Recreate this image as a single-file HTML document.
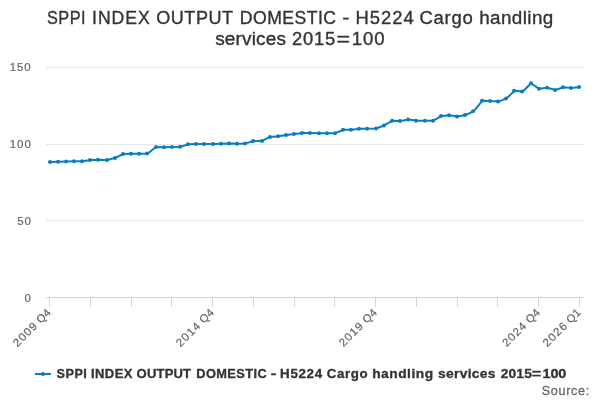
<!DOCTYPE html>
<html><head><meta charset="utf-8"><title>chart</title>
<style>
html,body{margin:0;padding:0;background:#fff;}
body{width:600px;height:400px;overflow:hidden;font-family:"Liberation Sans",sans-serif;}
svg{display:block;will-change:transform;font-kerning:none;font-family:"Liberation Sans",sans-serif;}
</style></head><body>
<svg width="600" height="400" viewBox="0 0 600 400">
<rect x="0" y="0" width="600" height="400" fill="#ffffff"/>
<g stroke="#e6e6e6" stroke-width="1" fill="none">
<path d="M 46 67.5 H 584"/><path d="M 46 144.5 H 584"/><path d="M 46 220.5 H 584"/>
</g>
<g stroke="#ccd6eb" stroke-width="1" fill="none">
<path d="M 46 297.5 H 584"/><path d="M 49.5 297.5 V 307"/><path d="M 90.5 297.5 V 307"/><path d="M 131.5 297.5 V 307"/><path d="M 171.5 297.5 V 307"/><path d="M 212.5 297.5 V 307"/><path d="M 253.5 297.5 V 307"/><path d="M 294.5 297.5 V 307"/><path d="M 334.5 297.5 V 307"/><path d="M 375.5 297.5 V 307"/><path d="M 416.5 297.5 V 307"/><path d="M 457.5 297.5 V 307"/><path d="M 497.5 297.5 V 307"/><path d="M 538.5 297.5 V 307"/><path d="M 579.5 297.5 V 307"/>
</g>
<g fill="#333333" stroke="#333333" stroke-width="0.35">
<text transform="translate(46.96 24) scale(0.8941 1)" font-size="18.2px" style="letter-spacing:0.563px">SPPI</text>
<text transform="translate(92.10 24) scale(0.9677 1)" font-size="18.2px" style="letter-spacing:0.979px">INDEX</text>
<text transform="translate(156.16 24) scale(0.9914 1)" font-size="18.2px" style="letter-spacing:0.571px">OUTPUT</text>
<text transform="translate(239.79 24) scale(0.9688 1)" font-size="18.2px" style="letter-spacing:0.473px">DOMESTIC</text>
<text transform="translate(342.37 24) scale(1.2052 1)" font-size="18.2px" style="letter-spacing:0.000px">-</text>
<text transform="translate(355.49 24) scale(1.0123 1)" font-size="18.2px" style="letter-spacing:0.995px">H5224</text>
<text transform="translate(419.41 24) scale(0.9747 1)" font-size="19px" style="letter-spacing:0.749px">Cargo</text>
<text transform="translate(479.13 24) scale(0.9924 1)" font-size="19px" style="letter-spacing:0.425px">handling</text>
<text transform="translate(215.19 45) scale(1.0014 1)" font-size="19px" style="letter-spacing:0.155px">services</text>
<text transform="translate(292.08 45) scale(1.0130 1)" font-size="18.2px" style="letter-spacing:0.683px">2015</text>
<text transform="translate(336.56 45) scale(1.2779 1)" font-size="18.2px" style="letter-spacing:0.000px">=</text>
<text transform="translate(351.76 45) scale(1.0247 1)" font-size="18.2px" style="letter-spacing:0.809px">100</text>
</g>
<g fill="#666666" stroke="#666666" stroke-width="0.2">
<text transform="translate(9.80 71) scale(1.0202 1)" font-size="11.2px" style="letter-spacing:0.911px">150</text>
<text transform="translate(9.75 148) scale(1.0299 1)" font-size="11.2px" style="letter-spacing:0.884px">100</text>
<text transform="translate(17.16 225) scale(1.0283 1)" font-size="11.2px" style="letter-spacing:0.868px">50</text>
<text transform="translate(24.49 301.8) scale(1.0226 1)" font-size="11.2px" style="letter-spacing:0.000px">0</text>
</g>
<g fill="#666666" stroke="#666666" stroke-width="0.2">
<g transform="translate(51.7 313.1) rotate(-45)"><text transform="translate(-48.48 0) scale(1.0476 1)" font-size="11.2px" style="letter-spacing:0.901px">2009</text> <text transform="translate(-15.55 0) scale(0.9992 1)" font-size="11.2px" style="letter-spacing:0.352px">Q4</text></g>
<g transform="translate(214.8 313.1) rotate(-45)"><text transform="translate(-48.63 0) scale(1.0320 1)" font-size="11.2px" style="letter-spacing:1.125px">2014</text> <text transform="translate(-15.55 0) scale(0.9992 1)" font-size="11.2px" style="letter-spacing:0.352px">Q4</text></g>
<g transform="translate(377.8 313.1) rotate(-45)"><text transform="translate(-48.47 0) scale(1.0384 1)" font-size="11.2px" style="letter-spacing:0.963px">2019</text> <text transform="translate(-15.55 0) scale(0.9992 1)" font-size="11.2px" style="letter-spacing:0.352px">Q4</text></g>
<g transform="translate(540.9 313.1) rotate(-45)"><text transform="translate(-48.47 0) scale(1.0394 1)" font-size="11.2px" style="letter-spacing:0.954px">2024</text> <text transform="translate(-15.55 0) scale(0.9992 1)" font-size="11.2px" style="letter-spacing:0.352px">Q4</text></g>
<g transform="translate(581.6 313.1) rotate(-45)"><text transform="translate(-48.51 0) scale(1.0463 1)" font-size="11.2px" style="letter-spacing:0.907px">2026</text> <text transform="translate(-15.49 0) scale(0.9794 1)" font-size="11.2px" style="letter-spacing:0.643px">Q1</text></g>
</g>
<path d="M 50.08 161.95 L 58.23 161.80 L 66.38 161.49 L 74.53 161.34 L 82.68 161.19 L 90.83 160.11 L 98.98 159.81 L 107.14 159.96 L 115.29 157.89 L 123.44 153.98 L 131.59 153.75 L 139.74 153.67 L 147.89 153.52 L 156.05 146.93 L 164.20 147.23 L 172.35 146.93 L 180.50 146.70 L 188.65 144.17 L 196.80 144.01 L 204.95 144.01 L 213.11 144.01 L 221.26 143.86 L 229.41 143.55 L 237.56 143.63 L 245.71 143.40 L 253.86 140.95 L 262.02 140.95 L 270.17 136.96 L 278.32 136.19 L 286.47 134.97 L 294.62 134.05 L 302.77 132.97 L 310.92 133.05 L 319.08 133.13 L 327.23 133.13 L 335.38 133.13 L 343.53 129.75 L 351.68 129.75 L 359.83 128.76 L 367.98 128.68 L 376.14 128.45 L 384.29 125.46 L 392.44 120.71 L 400.59 121.01 L 408.74 119.48 L 416.89 120.86 L 425.05 120.86 L 433.20 120.71 L 441.35 116.03 L 449.50 115.19 L 457.65 116.57 L 465.80 115.03 L 473.95 111.20 L 482.11 100.77 L 490.26 101.00 L 498.41 101.62 L 506.56 98.40 L 514.71 90.65 L 522.86 91.50 L 531.02 83.29 L 539.17 88.81 L 547.32 87.82 L 555.47 90.04 L 563.62 87.28 L 571.77 88.05 L 579.92 86.90" fill="none" stroke="#0b7cc2" stroke-width="2" stroke-linejoin="round" stroke-linecap="round"/>
<g fill="#0b7cc2"><circle cx="50" cy="161.95" r="2"/><circle cx="58" cy="161.80" r="2"/><circle cx="66" cy="161.49" r="2"/><circle cx="74" cy="161.34" r="2"/><circle cx="82" cy="161.19" r="2"/><circle cx="90" cy="160.11" r="2"/><circle cx="98" cy="159.81" r="2"/><circle cx="107" cy="159.96" r="2"/><circle cx="115" cy="157.89" r="2"/><circle cx="123" cy="153.98" r="2"/><circle cx="131" cy="153.75" r="2"/><circle cx="139" cy="153.67" r="2"/><circle cx="147" cy="153.52" r="2"/><circle cx="156" cy="146.93" r="2"/><circle cx="164" cy="147.23" r="2"/><circle cx="172" cy="146.93" r="2"/><circle cx="180" cy="146.70" r="2"/><circle cx="188" cy="144.17" r="2"/><circle cx="196" cy="144.01" r="2"/><circle cx="204" cy="144.01" r="2"/><circle cx="213" cy="144.01" r="2"/><circle cx="221" cy="143.86" r="2"/><circle cx="229" cy="143.55" r="2"/><circle cx="237" cy="143.63" r="2"/><circle cx="245" cy="143.40" r="2"/><circle cx="253" cy="140.95" r="2"/><circle cx="262" cy="140.95" r="2"/><circle cx="270" cy="136.96" r="2"/><circle cx="278" cy="136.19" r="2"/><circle cx="286" cy="134.97" r="2"/><circle cx="294" cy="134.05" r="2"/><circle cx="302" cy="132.97" r="2"/><circle cx="310" cy="133.05" r="2"/><circle cx="319" cy="133.13" r="2"/><circle cx="327" cy="133.13" r="2"/><circle cx="335" cy="133.13" r="2"/><circle cx="343" cy="129.75" r="2"/><circle cx="351" cy="129.75" r="2"/><circle cx="359" cy="128.76" r="2"/><circle cx="367" cy="128.68" r="2"/><circle cx="376" cy="128.45" r="2"/><circle cx="384" cy="125.46" r="2"/><circle cx="392" cy="120.71" r="2"/><circle cx="400" cy="121.01" r="2"/><circle cx="408" cy="119.48" r="2"/><circle cx="416" cy="120.86" r="2"/><circle cx="425" cy="120.86" r="2"/><circle cx="433" cy="120.71" r="2"/><circle cx="441" cy="116.03" r="2"/><circle cx="449" cy="115.19" r="2"/><circle cx="457" cy="116.57" r="2"/><circle cx="465" cy="115.03" r="2"/><circle cx="473" cy="111.20" r="2"/><circle cx="482" cy="100.77" r="2"/><circle cx="490" cy="101.00" r="2"/><circle cx="498" cy="101.62" r="2"/><circle cx="506" cy="98.40" r="2"/><circle cx="514" cy="90.65" r="2"/><circle cx="522" cy="91.50" r="2"/><circle cx="531" cy="83.29" r="2"/><circle cx="539" cy="88.81" r="2"/><circle cx="547" cy="87.82" r="2"/><circle cx="555" cy="90.04" r="2"/><circle cx="563" cy="87.28" r="2"/><circle cx="571" cy="88.05" r="2"/><circle cx="579" cy="86.90" r="2"/></g>
<path d="M 35 374 H 51" stroke="#0b7cc2" stroke-width="2" fill="none"/>
<circle cx="43" cy="374" r="2" fill="#0b7cc2"/>
<g fill="#333333" stroke="#333333" stroke-width="0.3" font-weight="bold">
<text transform="translate(56.51 378) scale(1.0390 1)" font-size="12.2px" style="letter-spacing:0.478px">SPPI</text>
<text transform="translate(90.98 378) scale(1.0650 1)" font-size="12.2px" style="letter-spacing:0.410px">INDEX</text>
<text transform="translate(136.55 378) scale(1.0697 1)" font-size="12.2px" style="letter-spacing:0.171px">OUTPUT</text>
<text transform="translate(196.26 378) scale(1.0504 1)" font-size="12.2px" style="letter-spacing:0.384px">DOMESTIC</text>
<text transform="translate(270.81 378) scale(1.3826 1)" font-size="12.2px" style="letter-spacing:0.000px">-</text>
<text transform="translate(280.11 378) scale(1.0942 1)" font-size="12.2px" style="letter-spacing:0.615px">H5224</text>
<text transform="translate(326.81 378) scale(1.0479 1)" font-size="12.7px" style="letter-spacing:0.558px">Cargo</text>
<text transform="translate(372.17 378) scale(1.0858 1)" font-size="12.7px" style="letter-spacing:0.457px">handling</text>
<text transform="translate(438.10 378) scale(1.0917 1)" font-size="12.7px" style="letter-spacing:0.261px">services</text>
<text transform="translate(500.65 378) scale(1.1270 1)" font-size="12.2px" style="letter-spacing:0.195px">2015</text>
<text transform="translate(531.78 378) scale(1.3205 1)" font-size="12.2px" style="letter-spacing:0.000px">=</text>
<text transform="translate(542.44 378) scale(1.1854 1)" font-size="12.2px" style="letter-spacing:-0.064px">100</text>
</g>
<g fill="#666666" stroke="#666666" stroke-width="0.25">
<text transform="translate(541.70 395) scale(1.0024 1)" font-size="12.6px" style="letter-spacing:0.678px">Source:</text>
</g>
</svg>
</body></html>
